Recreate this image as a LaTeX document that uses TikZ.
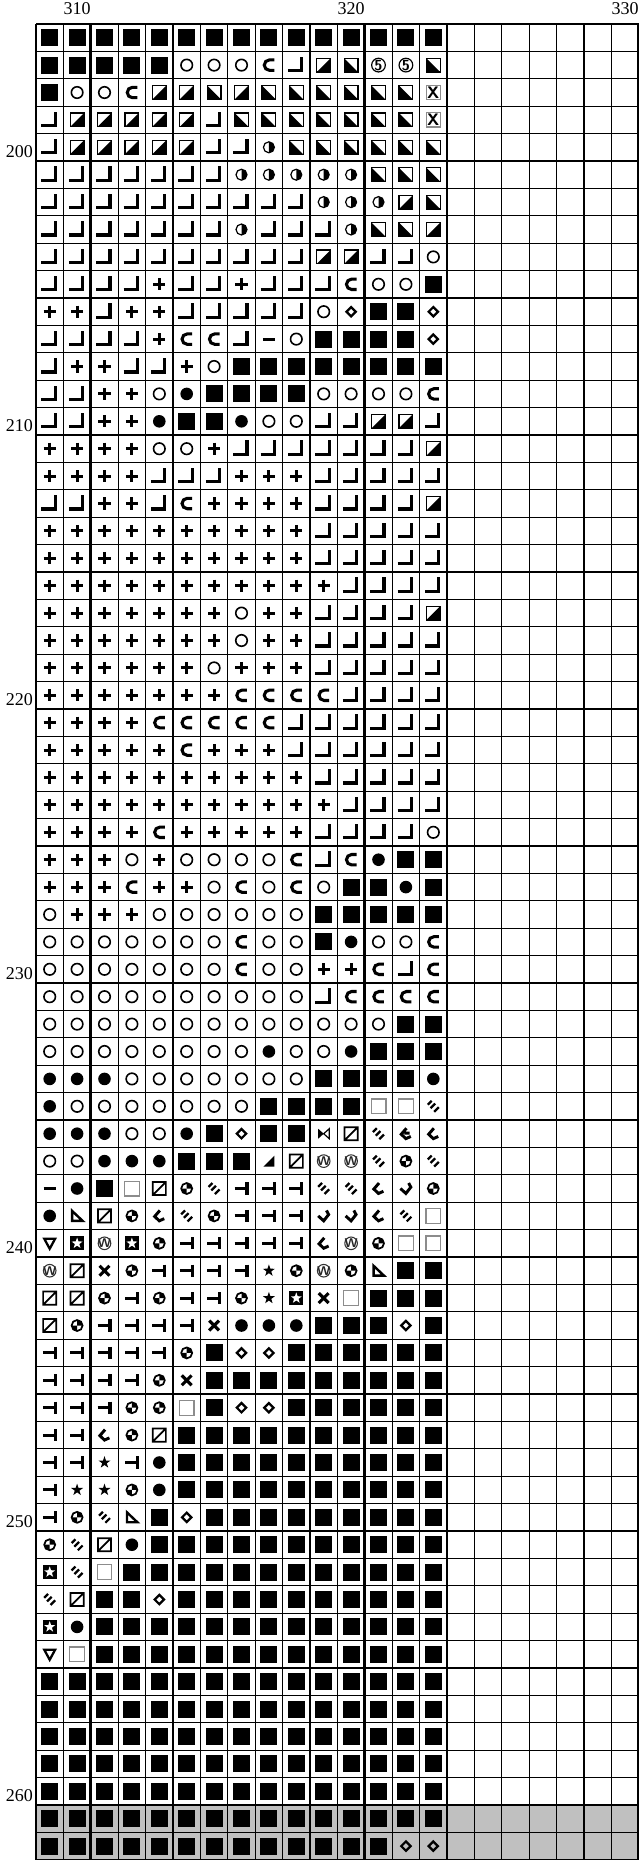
\documentclass[tikz,border=0pt]{standalone}
\usepackage{fontspec}
\setmainfont{Liberation Serif}
\definecolor{chartgray}{RGB}{192,192,192}
\definecolor{framegray}{RGB}{140,140,140}

\tikzset{
  stk/.style={line width=2.3pt},
  gridline/.style={line width=0.8pt},
  tenline/.style={line width=2.2pt},
  axislabel/.style={font=\fontsize{13.5}{16}\selectfont, inner sep=0pt}
}

% symbols, one cell = 1 unit, y grows downwards
\newcommand{\symB}{\fill (-0.31,-0.31) rectangle (0.31,0.31);}
\newcommand{\symL}{\draw[stk] (-0.3,0.2) -- (0.2,0.2) -- (0.2,-0.3);}
\newcommand{\symO}{\draw[line width=1.2pt] (0,0) circle (0.21);}
\newcommand{\symC}{\draw[stk] (0.2,-0.19) -- (0.02,-0.19) arc[start angle=270,end angle=90,radius=0.19] -- (0.2,0.19);}
\newcommand{\symP}{\draw[line width=0.9pt] (-0.25,-0.25) rectangle (0.25,0.25); \fill (-0.25,0.25) -- (0.25,0.25) -- (0.25,-0.25) -- cycle;}
\newcommand{\symN}{\draw[line width=0.9pt] (-0.25,-0.25) rectangle (0.25,0.25); \fill (-0.25,-0.25) -- (-0.25,0.25) -- (0.25,0.25) -- cycle;}
\newcommand{\symH}{\draw[line width=0.9pt] (0,0) circle (0.2); \fill (0,-0.2) arc[start angle=270,end angle=450,radius=0.2] -- cycle;}
\newcommand{\symF}{\draw[line width=0.9pt] (0,0) circle (0.25); \node[font=\sffamily\bfseries\fontsize{11}{11}\selectfont, inner sep=0pt] (five) at (0,0) {5};}
\newcommand{\symX}{\draw[framegray, line width=0.8pt] (-0.26,-0.26) rectangle (0.26,0.26); \node[font=\sffamily\bfseries\fontsize{12.5}{12.5}\selectfont, inner sep=0pt] (cross) at (0,0) {X};}
\newcommand{\symp}{\draw[stk] (-0.22,0) -- (0.22,0) (0,-0.22) -- (0,0.22);}
\newcommand{\symm}{\draw[stk] (-0.22,0) -- (0.22,0);}
\newcommand{\symD}{\draw[line width=1.7pt] (0,-0.17) -- (0.17,0) -- (0,0.17) -- (-0.17,0) -- cycle;}
\newcommand{\symK}{\fill (0,0) circle (0.23);}
\newcommand{\symE}{\draw[framegray, line width=0.9pt] (-0.27,-0.27) rectangle (0.27,0.27);}
\newcommand{\symS}{\draw[line width=1.7pt] (-0.2,-0.06) -- (-0.06,-0.2) (-0.1,0.07) -- (0.07,-0.1) (0.03,0.2) -- (0.2,0.03);}
\newcommand{\symT}{\draw[stk] (-0.25,0) -- (0.2,0) (0.2,-0.22) -- (0.2,0.22);}
\newcommand{\symW}{\draw[black!80, line width=0.8pt] (0,0) circle (0.23); \node[black!85, font=\sffamily\bfseries\fontsize{9.5}{9.5}\selectfont, inner sep=0pt] (wlabel) at (0,0) {W};}
\newcommand{\symQ}{\draw[line width=1.3pt] (0,0) circle (0.2); \fill (0,0) -- (0.2,0) arc[start angle=0,end angle=-90,radius=0.2] -- cycle; \fill (0,0) -- (-0.2,0) arc[start angle=180,end angle=90,radius=0.2] -- cycle;}
\newcommand{\symZ}{\draw[line width=1.3pt] (-0.24,-0.24) rectangle (0.24,0.24) (-0.24,0.24) -- (0.24,-0.24);}
\newcommand{\symV}{\draw[line width=1.7pt] (-0.2,-0.17) -- (0.2,-0.17) -- (0,0.2) -- cycle;}
\newcommand{\symA}{\fill (-0.26,-0.26) rectangle (0.26,0.26); \fill[white] (270:0.21) \foreach \k in {1,...,9} {-- ({270+36*\k}:{0.085+0.125*(1-mod(\k,2))})} -- cycle;}
\newcommand{\symR}{\fill (270:0.23) \foreach \k in {1,...,9} {-- ({270+36*\k}:{0.09+0.14*(1-mod(\k,2))})} -- cycle;}
\newcommand{\symY}{\draw[line width=2.3pt] (-0.18,-0.18) -- (0.18,0.18) (-0.18,0.18) -- (0.18,-0.18);}
\newcommand{\symG}{\draw[line width=1.8pt] (-0.18,-0.18) -- (-0.18,0.18) -- (0.2,0.18) -- cycle;}
\newcommand{\symJ}{\fill (-0.2,0.2) -- (0.2,0.2) -- (0.2,-0.2) -- cycle;}
\newcommand{\symM}{\fill (-0.2,-0.18) -- (0,0) -- (-0.2,0.18) -- cycle; \draw[line width=0.9pt] (0.2,-0.18) -- (0,0) -- (0.2,0.18) -- cycle;}
\newcommand{\symU}{\draw[line width=2.2pt] (0.02,-0.2) -- (-0.17,0.02) -- (0.0,0.18) -- (0.18,0.1);}
\newcommand{\symI}{\draw[line width=2.2pt] (-0.2,0.0) -- (0.0,0.18) -- (0.18,-0.05) -- (0.1,-0.2);}
\newcommand{\syme}{\draw[line width=2.2pt] (0.02,-0.2) -- (-0.17,0.02) -- (0.0,0.18) -- (0.18,0.1) (-0.06,-0.02) -- (0.14,-0.02);}

\begin{document}
\begin{tikzpicture}[x=0.75pt,y=0.75pt,yscale=-1,xscale=1]
\useasboundingbox (0,0) rectangle (639,1861);

\begin{scope}[shift={(36,24)}, scale=27.4]
% shaded rows 261, 262
\fill[chartgray] (0,65) rectangle (22,67);

% chart rows 196 .. 262, columns 1 .. 15
\foreach \rowdata [count=\r] in {
  {B,B,B,B,B,B,B,B,B,B,B,B,B,B,B},
  {B,B,B,B,B,O,O,O,C,L,P,N,F,F,N},
  {B,O,O,C,P,P,N,P,N,N,N,N,N,N,X},
  {L,P,P,P,P,P,L,N,N,N,N,N,N,N,X},
  {L,P,P,P,P,P,L,L,H,N,N,N,N,N,N},
  {L,L,L,L,L,L,L,H,H,H,H,H,N,N,N},
  {L,L,L,L,L,L,L,L,L,L,H,H,H,P,N},
  {L,L,L,L,L,L,L,H,L,L,L,H,N,N,P},
  {L,L,L,L,L,L,L,L,L,L,P,P,L,L,O},
  {L,L,L,L,p,L,L,p,L,L,L,C,O,O,B},
  {p,p,L,p,p,L,L,L,L,L,O,D,B,B,D},
  {L,L,L,L,p,C,C,L,m,O,B,B,B,B,D},
  {L,p,p,L,L,p,O,B,B,B,B,B,B,B,B},
  {L,L,p,p,O,K,B,B,B,B,O,O,O,O,C},
  {L,L,p,p,K,B,B,K,O,O,L,L,P,P,L},
  {p,p,p,p,O,O,p,L,L,L,L,L,L,L,P},
  {p,p,p,p,L,L,L,p,p,p,L,L,L,L,L},
  {L,L,p,p,L,C,p,p,p,p,L,L,L,L,P},
  {p,p,p,p,p,p,p,p,p,p,L,L,L,L,L},
  {p,p,p,p,p,p,p,p,p,p,L,L,L,L,L},
  {p,p,p,p,p,p,p,p,p,p,p,L,L,L,L},
  {p,p,p,p,p,p,p,O,p,p,L,L,L,L,P},
  {p,p,p,p,p,p,p,O,p,p,L,L,L,L,L},
  {p,p,p,p,p,p,O,p,p,p,L,L,L,L,L},
  {p,p,p,p,p,p,p,C,C,C,C,L,L,L,L},
  {p,p,p,p,C,C,C,C,C,L,L,L,L,L,L},
  {p,p,p,p,p,C,p,p,p,L,L,L,L,L,L},
  {p,p,p,p,p,p,p,p,p,p,L,L,L,L,L},
  {p,p,p,p,p,p,p,p,p,p,p,L,L,L,L},
  {p,p,p,p,C,p,p,p,p,p,L,L,L,L,O},
  {p,p,p,O,p,O,O,O,O,C,L,C,K,B,B},
  {p,p,p,C,p,p,O,C,O,C,O,B,B,K,B},
  {O,p,p,p,O,O,O,O,O,O,B,B,B,B,B},
  {O,O,O,O,O,O,O,C,O,O,B,K,O,O,C},
  {O,O,O,O,O,O,O,C,O,O,p,p,C,L,C},
  {O,O,O,O,O,O,O,O,O,O,L,C,C,C,C},
  {O,O,O,O,O,O,O,O,O,O,O,O,O,B,B},
  {O,O,O,O,O,O,O,O,K,O,O,K,B,B,B},
  {K,K,K,O,O,O,O,O,O,O,B,B,B,B,K},
  {K,O,O,O,O,O,O,O,B,B,B,B,E,E,S},
  {K,K,K,O,O,K,B,D,B,B,M,Z,S,e,U},
  {O,O,K,K,K,B,B,B,J,Z,W,W,S,Q,S},
  {m,K,B,E,Z,Q,S,T,T,T,S,S,U,I,Q},
  {K,G,Z,Q,U,S,Q,T,T,T,I,I,U,S,E},
  {V,A,W,A,Q,T,T,T,T,T,U,W,Q,E,E},
  {W,Z,Y,Q,T,T,T,T,R,Q,W,Q,G,B,B},
  {Z,Z,Q,T,Q,T,T,Q,R,A,Y,E,B,B,B},
  {Z,Q,T,T,T,T,Y,K,K,K,B,B,B,D,B},
  {T,T,T,T,T,Q,B,D,D,B,B,B,B,B,B},
  {T,T,T,T,Q,Y,B,B,B,B,B,B,B,B,B},
  {T,T,T,Q,Q,E,B,D,D,B,B,B,B,B,B},
  {T,T,U,Q,Z,B,B,B,B,B,B,B,B,B,B},
  {T,T,R,T,K,B,B,B,B,B,B,B,B,B,B},
  {T,R,R,Q,K,B,B,B,B,B,B,B,B,B,B},
  {T,Q,S,G,B,D,B,B,B,B,B,B,B,B,B},
  {Q,S,Z,K,B,B,B,B,B,B,B,B,B,B,B},
  {A,S,E,B,B,B,B,B,B,B,B,B,B,B,B},
  {S,Z,B,B,D,B,B,B,B,B,B,B,B,B,B},
  {A,K,B,B,B,B,B,B,B,B,B,B,B,B,B},
  {V,E,B,B,B,B,B,B,B,B,B,B,B,B,B},
  {B,B,B,B,B,B,B,B,B,B,B,B,B,B,B},
  {B,B,B,B,B,B,B,B,B,B,B,B,B,B,B},
  {B,B,B,B,B,B,B,B,B,B,B,B,B,B,B},
  {B,B,B,B,B,B,B,B,B,B,B,B,B,B,B},
  {B,B,B,B,B,B,B,B,B,B,B,B,B,B,B},
  {B,B,B,B,B,B,B,B,B,B,B,B,B,B,B},
  {B,B,B,B,B,B,B,B,B,B,B,B,B,D,D}}
  \foreach \s [count=\c] in \rowdata {
    \begin{scope}[shift={(\c-0.5,\r-0.5)}]
      \csname sym\s\endcsname
    \end{scope}
  }

% grid
\foreach \c in {0,...,22}
  \draw[gridline] (\c,0) -- (\c,67);
\foreach \r in {0,...,67}
  \draw[gridline] (0,\r) -- (22,\r);
\foreach \c in {2,12,22}
  \draw[tenline] (\c,0) -- (\c,67);
\foreach \r in {5,15,...,65}
  \draw[tenline] (0,\r) -- (22,\r);

% column numbers
\foreach \n/\c in {310/2,320/12,330/22}
  \node[axislabel, anchor=base east] (col\n) at (\c,-0.33) {\n};
% row numbers
\foreach \n [count=\i] in {200,210,...,260}
  \node[axislabel, anchor=base east] (row\n) at (-0.1,{10*\i-5-0.14}) {\n};
\end{scope}

\end{tikzpicture}
\end{document}
